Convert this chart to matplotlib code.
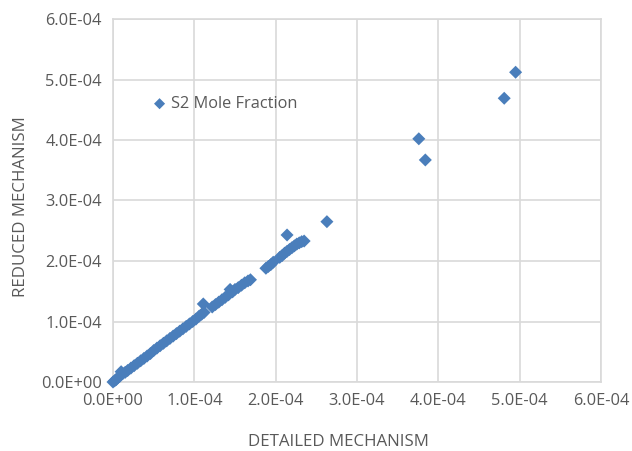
import matplotlib
matplotlib.use("Agg")
import matplotlib.pyplot as plt
from matplotlib.ticker import FuncFormatter, MultipleLocator

plt.rcParams['font.family'] = ['Open Sans', 'DejaVu Sans']

detailed = [0.00, 0.02, 0.04, 0.06, 0.08, 0.10, 0.12, 0.15, 0.18, 0.22, 0.26, 0.30,
            0.34, 0.38, 0.42, 0.46, 0.50, 0.54, 0.58, 0.62, 0.66, 0.70, 0.74, 0.78,
            0.82, 0.86, 0.90, 0.94, 0.98, 1.02, 1.06, 1.09, 1.12, 1.11,
            1.22, 1.26, 1.30, 1.34, 1.38, 1.42, 1.44, 1.47, 1.50, 1.54, 1.58, 1.62,
            1.66, 1.69,
            1.88, 1.91, 1.94, 1.97,
            2.05, 2.08, 2.11, 2.14, 2.17, 2.20, 2.23, 2.26, 2.29, 2.32, 2.35,
            2.14, 2.63, 3.76, 3.84, 4.81, 4.95]
reduced = [0.00, 0.02, 0.04, 0.07, 0.09, 0.17, 0.14, 0.16, 0.19, 0.23, 0.27, 0.31,
           0.35, 0.39, 0.43, 0.47, 0.52, 0.56, 0.60, 0.64, 0.68, 0.72, 0.76, 0.80,
           0.84, 0.88, 0.92, 0.96, 1.00, 1.04, 1.09, 1.12, 1.15, 1.29,
           1.24, 1.28, 1.32, 1.36, 1.40, 1.44, 1.53, 1.49, 1.53, 1.56, 1.60, 1.64,
           1.67, 1.69,
           1.88, 1.91, 1.94, 1.98,
           2.06, 2.09, 2.13, 2.16, 2.19, 2.22, 2.25, 2.28, 2.30, 2.32, 2.33,
           2.43, 2.65, 4.02, 3.67, 4.69, 5.12]
scale = 1e-4
x = [v * scale for v in detailed]
y = [v * scale for v in reduced]

W, H = 632, 451
fig = plt.figure(figsize=(W / 100, H / 100), dpi=100)
ax = fig.add_axes([113 / W, 1 - 382 / H, (601 - 113) / W, (382 - 19) / H])

ax.scatter(x, y, marker='D', s=44, color='#4A7EBB', edgecolors='none', zorder=3,
           clip_on=False, label='S2 Mole Fraction')

ax.set_xlim(0, 6e-4)
ax.set_ylim(0, 6e-4)
ax.xaxis.set_major_locator(MultipleLocator(1e-4))
ax.yaxis.set_major_locator(MultipleLocator(1e-4))
fmt = FuncFormatter(lambda v, p: f"{v:.1E}")
ax.xaxis.set_major_formatter(fmt)
ax.yaxis.set_major_formatter(fmt)

ax.grid(True, color='#D9D9D9', linewidth=1.2, zorder=0)
ax.set_axisbelow(True)
for s in ax.spines.values():
    s.set_color('#D9D9D9')
    s.set_linewidth(1.2)
ax.tick_params(length=0, labelsize=11.8, labelcolor='#595959', pad=8)

fig.text(338 / W, 1 - 442 / H, 'DETAILED MECHANISM', fontsize=12.2, color='#595959',
         ha='center', va='center')
fig.text(21 / W, 1 - 207 / H, 'REDUCED MECHANISM', fontsize=12.2, color='#595959',
         ha='center', va='center', rotation=90)

ax.legend(loc='center left', bbox_to_anchor=(153 / W, 1 - 104 / H),
          bbox_transform=fig.transFigure, frameon=False, borderpad=0,
          borderaxespad=0, fontsize=11.8, labelcolor='#595959',
          handlelength=0.8, handletextpad=0.3, markerscale=0.85, scatterpoints=1)

fig.savefig('out.png', dpi=100)
